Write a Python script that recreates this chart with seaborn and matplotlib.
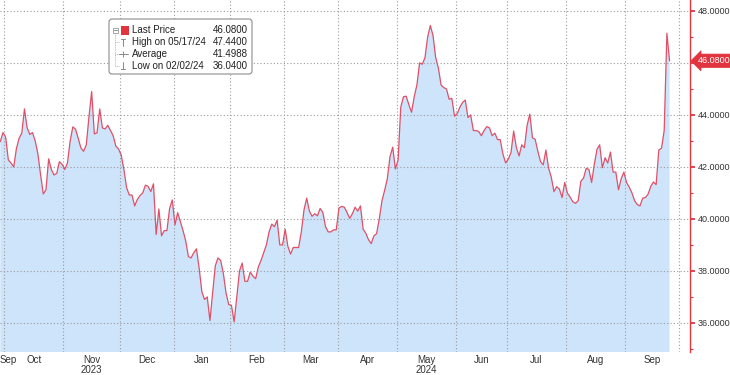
import numpy as np
import pandas as pd
import seaborn as sns
import matplotlib.pyplot as plt
from matplotlib.patches import FancyBboxPatch, Rectangle
from matplotlib.ticker import MultipleLocator, FuncFormatter, NullFormatter
from matplotlib.transforms import blended_transform_factory

# trading calendar (NYSE holidays in the window)
holidays = ['2023-11-23', '2023-12-25', '2024-01-01', '2024-01-15', '2024-02-19',
            '2024-03-29', '2024-05-27', '2024-06-19', '2024-07-04', '2024-09-02']
first_day = '2023-09-28'
axis_end_day = '2024-10-01'

# daily closes, 2023-09-28 .. 2024-09-25
prices = [
    42.97, 43.32, 43.15, 42.27, 42.15, 42.00, 42.70, 43.10, 43.30, 44.23,
    43.50, 43.25, 43.32, 43.00, 42.50, 41.70, 40.96, 41.12, 42.31, 41.90,
    41.69, 41.75, 42.20, 42.10, 41.90, 42.15, 43.00, 43.54, 43.45, 43.10,
    42.73, 42.60, 42.85, 43.93, 44.90, 43.27, 43.31, 44.23, 43.50, 43.46,
    43.60, 43.40, 43.20, 42.80, 42.69, 42.45, 41.90, 41.20, 40.92, 40.92,
    40.50, 40.75, 40.90, 41.00, 41.30, 41.25, 41.05, 41.35, 39.40, 40.38,
    39.35, 39.55, 39.55, 40.40, 40.73, 39.77, 40.24, 39.90, 39.55, 39.15,
    38.55, 38.50, 38.70, 38.85, 38.10, 37.20, 36.90, 37.00, 36.09, 37.15,
    38.20, 38.50, 38.40, 37.90, 37.15, 36.70, 36.68, 36.04, 37.00, 38.00,
    38.30, 37.60, 37.60, 37.95, 37.80, 37.70, 38.15, 38.40, 38.70, 39.00,
    39.50, 39.80, 39.70, 39.95, 39.00, 39.00, 39.60, 38.94, 38.65, 38.90,
    38.90, 38.90, 39.50, 40.35, 40.80, 40.30, 40.10, 40.20, 40.12, 40.40,
    40.25, 39.70, 39.50, 39.50, 39.58, 39.58, 40.42, 40.48, 40.45, 40.25,
    40.02, 40.20, 40.45, 40.30, 40.50, 39.60, 39.45, 39.20, 39.05, 39.35,
    39.43, 40.00, 40.70, 41.10, 41.55, 42.40, 42.76, 41.92, 42.27, 44.30,
    44.70, 44.72, 44.40, 44.10, 44.70, 45.15, 46.00, 45.95, 46.20, 47.00,
    47.44, 47.05, 46.20, 45.80, 45.15, 45.05, 45.00, 44.60, 44.64, 43.95,
    44.05, 44.30, 44.48, 44.57, 43.90, 44.00, 43.40, 43.40, 43.36, 43.20,
    43.40, 43.55, 43.50, 43.20, 43.30, 43.05, 43.05, 42.50, 42.15, 42.30,
    42.55, 43.38, 42.75, 42.42, 42.85, 42.74, 43.60, 44.03, 43.12, 43.06,
    42.60, 42.20, 42.08, 42.65, 41.95, 41.60, 41.05, 41.24, 41.15, 40.82,
    41.40, 40.99, 40.84, 40.66, 40.60, 40.70, 41.45, 41.57, 41.95, 41.90,
    41.40, 42.10, 42.68, 42.85, 41.97, 42.35, 42.15, 42.57, 41.80, 41.80,
    41.12, 41.55, 41.80, 41.40, 41.22, 41.00, 40.70, 40.55, 40.50, 40.80,
    40.82, 40.95, 41.25, 41.42, 41.32, 42.65, 42.72, 43.40, 47.14, 46.08,
]

legend_labels = ['Last Price', 'High on 05/17/24', 'Average', 'Low on 02/02/24']
legend_values = ['46.0800', '47.4400', '41.4988', '36.0400']
last_price = 46.08
year_months = {'2023': '2023-11', '2024': '2024-05'}

LINE = '#de5169'
FILL = '#cde4fb'
RED = '#e2343f'
GRID = '#9a9a9a'
TXT = '#333333'

sns.set_style('white')
plt.rcParams['font.family'] = ['Liberation Sans', 'DejaVu Sans']

days = pd.bdate_range(first_day, axis_end_day, freq='C', holidays=holidays)
df = pd.DataFrame({'date': days[:len(prices)], 'price': prices})
df['pos'] = np.arange(len(df))

fig = plt.figure(figsize=(7.3, 3.75), dpi=100)
ax = fig.add_axes([0, 1 - 352 / 375, 690 / 730, 352 / 375])

ax.fill_between(df['pos'], df['price'], 30, color=FILL, lw=0, zorder=1)
sns.lineplot(data=df, x='pos', y='price', ax=ax, color=LINE, linewidth=0.9, zorder=3)

ax.set_xlim(-0.1, 256.6)
ax.set_ylim(34.88, 48.42)

# month boundaries / labels from the trading calendar
periods = pd.Series(days.to_period('M'))
months = periods.unique()
bounds, centers = [], []
for i, m in enumerate(months):
    idx = np.where(periods == m)[0]
    if idx[0] > 0:
        bounds.append(idx[0] - 0.5)
    if i < len(months) - 1:
        centers.append((m, (idx[0] + idx[-1]) / 2, idx[0]))

ax.set_xticks(bounds)
ax.xaxis.set_major_formatter(NullFormatter())
ax.tick_params(axis='x', length=0)

trans = blended_transform_factory(ax.transData, ax.transAxes)
for m, c, start in centers:
    if start == 0:
        ax.text(0.0, -0.022, m.strftime('%b'), transform=ax.transAxes, ha='left', va='center',
                fontsize=7, color=TXT)
    else:
        ax.text(c, -0.022, m.strftime('%b'), transform=trans, ha='center', va='center',
                fontsize=7, color=TXT)
for yr, mon in year_months.items():
    c = [cc for m, cc, s in centers if str(m) == mon][0]
    ax.text(c, -0.052, yr, transform=trans, ha='center', va='center', fontsize=7, color=TXT)


# the last-price tag sits over the 46 label, so leave that one blank
@FuncFormatter
def price_fmt(v, pos):
    return '' if abs(v - last_price) < 0.5 else f'{v:.4f}'


# right axis
ax.yaxis.tick_right()
ax.yaxis.set_major_locator(MultipleLocator(2))
ax.yaxis.set_minor_locator(MultipleLocator(1))
ax.yaxis.set_major_formatter(price_fmt)
ax.tick_params(axis='y', which='major', direction='out', length=3.5, width=1.3, color=RED,
               labelsize=6.5, labelcolor=TXT, pad=1.8)
ax.tick_params(axis='y', which='minor', direction='out', length=2.5, width=0.8, color=RED)

for s in ['top', 'left', 'bottom']:
    ax.spines[s].set_visible(False)
ax.spines['right'].set_color(RED)
ax.spines['right'].set_linewidth(1.0)

ax.set_axisbelow(False)
ax.grid(True, which='major', ls=(0, (1, 2)), color=GRID, lw=0.8)
ax.set_xlabel('')
ax.set_ylabel('')

# last price tag on the axis
ax.text(1.012, last_price, f'{last_price:.4f}',
        transform=blended_transform_factory(ax.transAxes, ax.transData),
        ha='left', va='center', fontsize=6.5, color='white', clip_on=False,
        bbox=dict(boxstyle='larrow,pad=0.25', fc=RED, ec=RED, lw=0.5))

# legend panel drawn in pixel space
ov = fig.add_axes([0, 0, 1, 1], zorder=5)
ov.set_xlim(0, 730)
ov.set_ylim(375, 0)
ov.axis('off')
ov.patch.set_alpha(0)

ov.add_patch(FancyBboxPatch((109, 19), 143, 55, boxstyle='round,pad=0,rounding_size=3',
                            ec='#8c8c8c', fc='white', lw=0.8))
rows_y = [30, 42, 54, 66]
ov.plot([115, 115], [33, rows_y[-1]], color='#aaaaaa', lw=0.6, ls=(0, (1, 1)))
for y in rows_y[1:]:
    ov.plot([115, 119], [y, y], color='#aaaaaa', lw=0.6, ls=(0, (1, 1)))
ov.add_patch(Rectangle((112.5, 27.5), 5, 5, fc='white', ec='#999999', lw=0.6))
ov.plot([113.5, 116.5], [30, 30], color='#777777', lw=0.6)
ov.add_patch(Rectangle((120.5, 25.5), 8, 9, fc=RED, ec='none'))
# high / average / low glyphs
g = '#888888'
ov.plot([123, 123], [39, 46], color=g, lw=0.7)
ov.plot([121, 125], [39, 39], color=g, lw=0.7)
ov.plot([119, 128], [54, 54], color=g, lw=0.7)
ov.plot([123], [54], marker='+', ms=4, mew=0.7, color=g)
ov.plot([123, 123], [62, 69], color=g, lw=0.7)
ov.plot([121, 125], [69, 69], color=g, lw=0.7)

for y, lab, val in zip(rows_y, legend_labels, legend_values):
    ov.text(132, y, lab, ha='left', va='center', fontsize=7, color='#222222')
    ov.text(248, y, val, ha='right', va='center', fontsize=7, color='#222222')

fig.savefig('out.png', dpi=100)
